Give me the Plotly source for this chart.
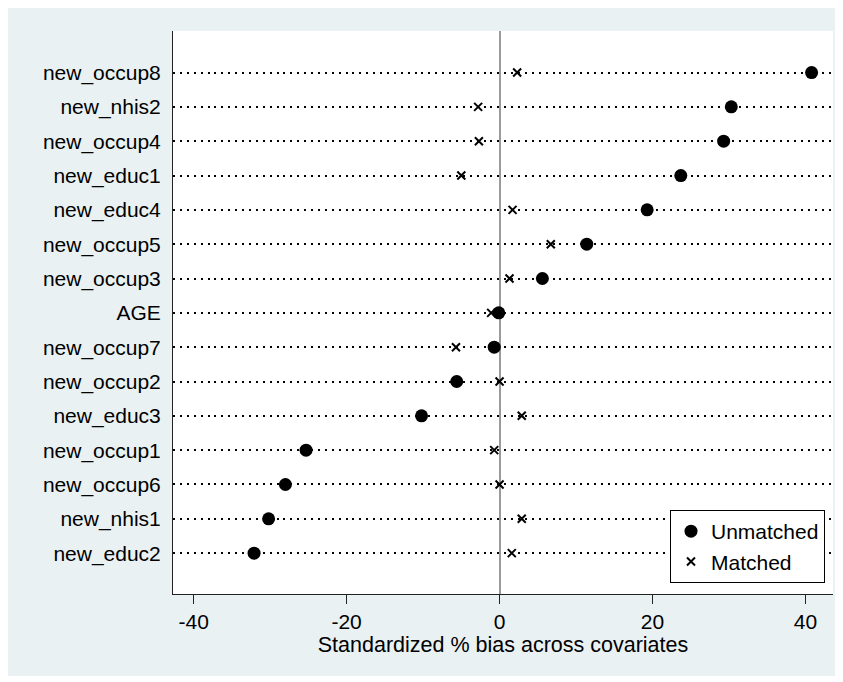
import plotly.graph_objects as go

categories = ["new_occup8", "new_nhis2", "new_occup4", "new_educ1", "new_educ4",
              "new_occup5", "new_occup3", "AGE", "new_occup7", "new_occup2",
              "new_educ3", "new_occup1", "new_occup6", "new_nhis1", "new_educ2"]
unmatched = [40.8, 30.3, 29.3, 23.7, 19.3, 11.4, 5.6, -0.1, -0.7, -5.6,
             -10.2, -25.3, -28.0, -30.2, -32.1]
matched = [2.3, -2.8, -2.7, -5.0, 1.7, 6.7, 1.3, -1.1, -5.7, 0.0,
           2.9, -0.7, 0.0, 2.9, 1.6]
x_ticks = [-40, -20, 0, 20, 40]
x_ticktext = ["-40", "-20", "0", "20", "40"]
x_title = "Standardized % bias across covariates"

FONT = "Liberation Sans, Arial, sans-serif"
BG = "#EAF1F3"

# the page body has an 8px margin, so the figure is drawn at (8, 8)
OFF = 8
W, H = 843 - OFF, 682 - OFF
L, R, T, B = 173 - OFF, 843 - 833, 31 - OFF, 682 - 594
pw, ph = W - L - R, H - T - B


def px2paper_x(page_px):
    return (page_px - OFF - L) / pw


def px2paper_y(page_py):
    return (H - B - (page_py - OFF)) / ph


fig = go.Figure()
fig.add_trace(go.Scatter(
    x=matched, y=categories, mode="markers", name="Matched", legendrank=2,
    marker=dict(symbol="x-thin-open", size=8, color="black",
                line=dict(color="black", width=2)),
))
fig.add_trace(go.Scatter(
    x=unmatched, y=categories, mode="markers", name="Unmatched", legendrank=1,
    marker=dict(symbol="circle", size=13, color="black", line=dict(width=0)),
))

fig.update_layout(
    width=W, height=H,
    margin=dict(l=L, r=R, t=T, b=B),
    paper_bgcolor="white",
    plot_bgcolor="white",
    font=dict(family=FONT, size=21, color="black"),
    showlegend=True,
    legend=dict(
        x=px2paper_x(670), y=px2paper_y(510), xanchor="left", yanchor="top",
        bgcolor="white", bordercolor="black", borderwidth=1,
        font=dict(family=FONT, size=21, color="black"),
        itemsizing="trace",
    ),
    shapes=[
        dict(type="rect", xref="paper", yref="paper", layer="below",
             x0=px2paper_x(6), x1=px2paper_x(837),
             y0=px2paper_y(676), y1=px2paper_y(6),
             fillcolor=BG, line=dict(width=0)),
        dict(type="rect", xref="paper", yref="paper", layer="below",
             x0=0, x1=1, y0=0, y1=1,
             fillcolor="white", line=dict(width=0)),
    ],
    xaxis=dict(
        range=[-42.7, 43.6],
        tickvals=x_ticks, ticktext=x_ticktext,
        ticks="outside", ticklen=9, tickwidth=1, tickcolor="#222",
        showline=True, linecolor="#222", linewidth=1,
        showgrid=False,
        zeroline=True, zerolinecolor="#9a9a9a", zerolinewidth=2,
        tickfont=dict(family=FONT, size=21, color="black"),
        title=dict(text=x_title, standoff=4,
                   font=dict(family=FONT, size=21.5, color="black")),
    ),
    yaxis=dict(
        type="category",
        categoryorder="array", categoryarray=categories,
        range=[len(categories) - 1 + 1.19, -1.21],
        showline=True, linecolor="#222", linewidth=1,
        ticks="",
        ticklabelstandoff=7,
        showgrid=True, gridcolor="black", gridwidth=2, griddash="2px,4.9px",
        zeroline=False,
        tickfont=dict(family=FONT, size=21, color="black"),
    ),
)

fig.write_html("out.html")
